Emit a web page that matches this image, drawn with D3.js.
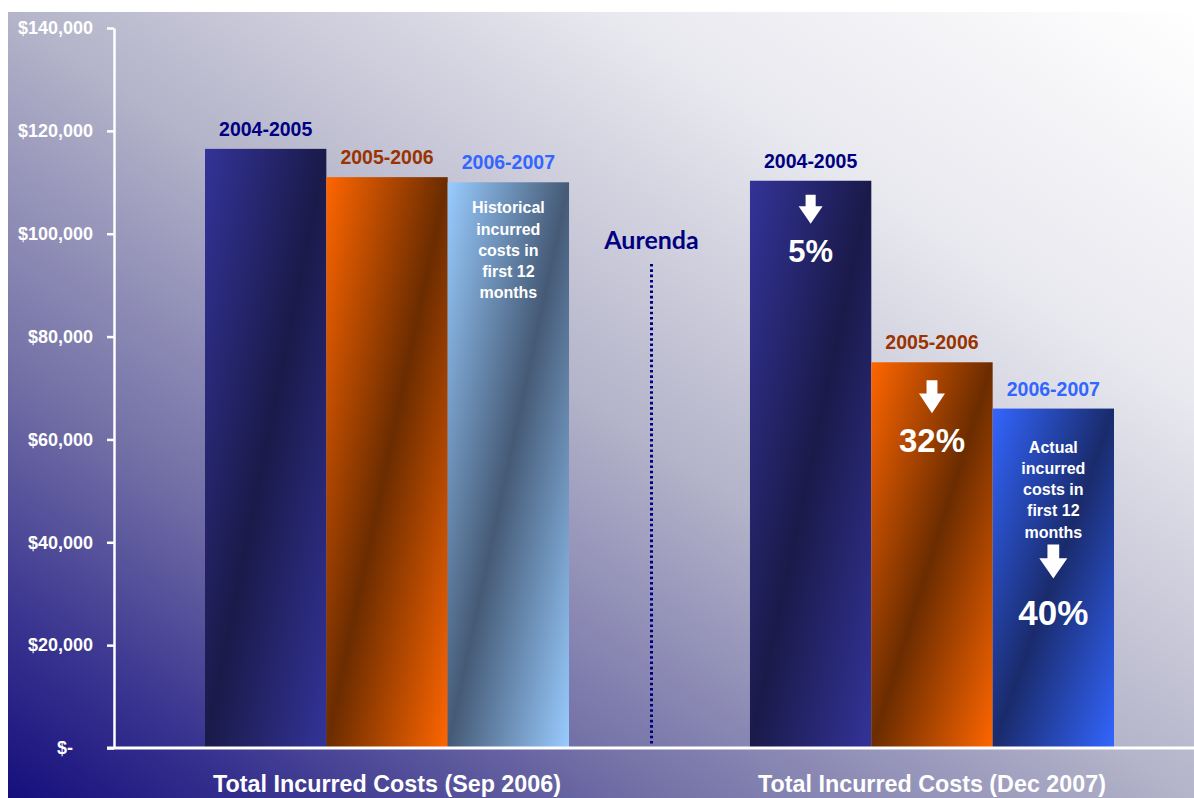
<!DOCTYPE html>
<html>
<head>
<meta charset="utf-8">
<script src="https://cdn.jsdelivr.net/npm/d3@7"></script>
<style>
  html, body { margin: 0; padding: 0; background: #ffffff; }
  svg { display: block; }
  text { font-family: "Liberation Sans", Arial, sans-serif; font-weight: bold; }
</style>
</head>
<body>
<script>
// ---- data ----
const groups = ["Total Incurred Costs (Sep 2006)", "Total Incurred Costs (Dec 2007)"];
const series = ["2004-2005", "2005-2006", "2006-2007"];
const sep2006 = [116500, 111000, 110000];
const dec2007 = [110300, 75000, 66000];
const reductions = ["5%", "32%", "40%"];
const yTicks = [0, 20000, 40000, 60000, 80000, 100000, 120000, 140000];
const notes = ["Historical incurred costs in first 12 months", "Actual incurred costs in first 12 months"];
const dividerLabel = "Aurenda";

const values = [sep2006, dec2007];
const labelColors = ["#000080", "#993300", "#3366ff"];
// gradient colour pairs [light, dark] per group, per series
const barColors = [
  [["#333399", "#1a1a4a"], ["#ff6600", "#6b2c00"], ["#99ccff", "#455a76"]],
  [["#333399", "#1a1a4a"], ["#ff6600", "#6b2c00"], ["#3366ff", "#1a2b6c"]]
];

const W = 1194, H = 798;
const svg = d3.select("body").append("svg").attr("width", W).attr("height", H);
const defs = svg.append("defs");

// background gradient
const bg = defs.append("linearGradient").attr("id", "bg")
  .attr("x1", 0).attr("y1", 1).attr("x2", 1).attr("y2", 0);
[[0, "#150f7c"], [0.12, "#3a3590"], [0.27, "#726fa6"], [0.5, "#b4b4ca"], [0.75, "#e8e8ef"], [1, "#ffffff"]]
  .forEach(([o, c]) => bg.append("stop").attr("offset", o).attr("stop-color", c));
svg.append("rect").attr("x", 8).attr("y", 12).attr("width", W - 8).attr("height", H - 12).attr("fill", "url(#bg)");

// scales
const y = d3.scaleLinear().domain([0, 140000]).range([748, 28]);
const x0 = d3.scaleBand().domain(groups).range([205, 1114]).paddingInner(0.332).paddingOuter(0);
const x1 = d3.scaleBand().domain(series).range([0, x0.bandwidth()]).padding(0);

// bar gradients
groups.forEach((g, gi) => {
  series.forEach((s, si) => {
    const [a, b] = barColors[gi][si];
    const lg = defs.append("linearGradient").attr("id", `bar${gi}_${si}`)
      .attr("x1", 0).attr("y1", 0).attr("x2", 1).attr("y2", 1);
    lg.append("stop").attr("offset", 0).attr("stop-color", a);
    lg.append("stop").attr("offset", 0.5).attr("stop-color", b);
    lg.append("stop").attr("offset", 1).attr("stop-color", a);
  });
});

const barData = [];
groups.forEach((g, gi) => series.forEach((s, si) => barData.push({ g, gi, s, si, v: values[gi][si] })));

const gBars = svg.append("g");
gBars.selectAll("rect").data(barData).join("rect")
  .attr("x", d => x0(d.g) + x1(d.s))
  .attr("y", d => y(d.v))
  .attr("width", x1.bandwidth())
  .attr("height", d => y(0) - y(d.v))
  .attr("fill", d => `url(#bar${d.gi}_${d.si})`);

// series labels above bars
gBars.selectAll("text.lab").data(barData).join("text").attr("class", "lab")
  .attr("x", d => x0(d.g) + x1(d.s) + x1.bandwidth() / 2)
  .attr("y", d => y(d.v) - 13)
  .attr("text-anchor", "middle")
  .attr("font-size", 19.5)
  .attr("fill", d => labelColors[d.si])
  .text(d => d.s);

function cx(gi, si) { return x0(groups[gi]) + x1(series[si]) + x1.bandwidth() / 2; }

// note text inside the third bar of each group
function noteLines(text) {
  const w = text.split(" ");
  return [w[0], w[1], w[2] + " " + w[3], w[4] + " " + w[5], w[6]];
}
const noteOffsets = [31, 44];
notes.forEach((n, gi) => {
  const t = svg.append("text").attr("text-anchor", "middle").attr("font-size", 16).attr("fill", "#ffffff");
  noteLines(n).forEach((ln, i) => {
    t.append("tspan").attr("x", cx(gi, 2)).attr("y", y(values[gi][2]) + noteOffsets[gi] + i * 21.3).text(ln);
  });
});

// reduction arrows and percentages in second group
function arrowPath(w, h) {
  const s = w * 0.42, hs = h * 0.4;
  return `M${-s / 2},0 L${s / 2},0 L${s / 2},${hs} L${w / 2},${hs} L0,${h} L${-w / 2},${hs} L${-s / 2},${hs} Z`;
}
const arrowSpec = [
  { dy: 14, w: 24, h: 29, pctDy: 81, fs: 31 },
  { dy: 18, w: 26, h: 33, pctDy: 90, fs: 33 },
  { dy: 136, w: 28, h: 34, pctDy: 216, fs: 35 }
];
reductions.forEach((r, si) => {
  const sp = arrowSpec[si];
  const top = y(dec2007[si]);
  svg.append("path").attr("d", arrowPath(sp.w, sp.h))
    .attr("transform", `translate(${cx(1, si)},${top + sp.dy})`)
    .attr("fill", "#ffffff");
  svg.append("text").attr("x", cx(1, si)).attr("y", top + sp.pctDy)
    .attr("text-anchor", "middle").attr("font-size", sp.fs).attr("fill", "#ffffff").text(r);
});

// divider
const divX = (x0(groups[0]) + x0.bandwidth() + x0(groups[1])) / 2 - 8;
svg.append("line").attr("x1", divX).attr("x2", divX).attr("y1", 264).attr("y2", 746)
  .attr("stroke", "#000080").attr("stroke-width", 3).attr("stroke-dasharray", "2.6,2.7");
svg.append("text").attr("x", divX).attr("y", 249).attr("text-anchor", "middle")
  .style("font-family", "Lato, 'Open Sans', sans-serif").style("font-weight", 700)
  .attr("font-size", 25).attr("fill", "#000080").text(dividerLabel);

// y axis
const yAxis = d3.axisLeft(y).tickValues(yTicks).tickSize(7).tickSizeOuter(0).tickPadding(14)
  .tickFormat(d => d === 0 ? "$-" : "$" + d3.format(",")(d));
const ya = svg.append("g").attr("transform", "translate(114,0)").call(yAxis);
ya.select(".domain").attr("stroke", "#ffffff").attr("stroke-width", 2.5);
ya.selectAll(".tick line").attr("stroke", "#ffffff").attr("stroke-width", 2.5);
ya.selectAll(".tick text").attr("fill", "#ffffff").attr("font-size", 18)
  .style("font-family", "'Liberation Sans', Arial, sans-serif").style("font-weight", "bold")
  .attr("dx", d => d === 0 ? -20 : 0);

// x axis
svg.append("line").attr("x1", 107).attr("x2", W).attr("y1", y(0)).attr("y2", y(0))
  .attr("stroke", "#ffffff").attr("stroke-width", 3);
const xAxis = d3.axisBottom(x0).tickSize(0).tickPadding(27);
const xa = svg.append("g").attr("transform", `translate(0,${y(0)})`).call(xAxis);
xa.select(".domain").remove();
xa.selectAll(".tick text").attr("fill", "#ffffff").attr("font-size", 23.3)
  .style("font-family", "'Liberation Sans', Arial, sans-serif").style("font-weight", "bold");
</script>
</body>
</html>
